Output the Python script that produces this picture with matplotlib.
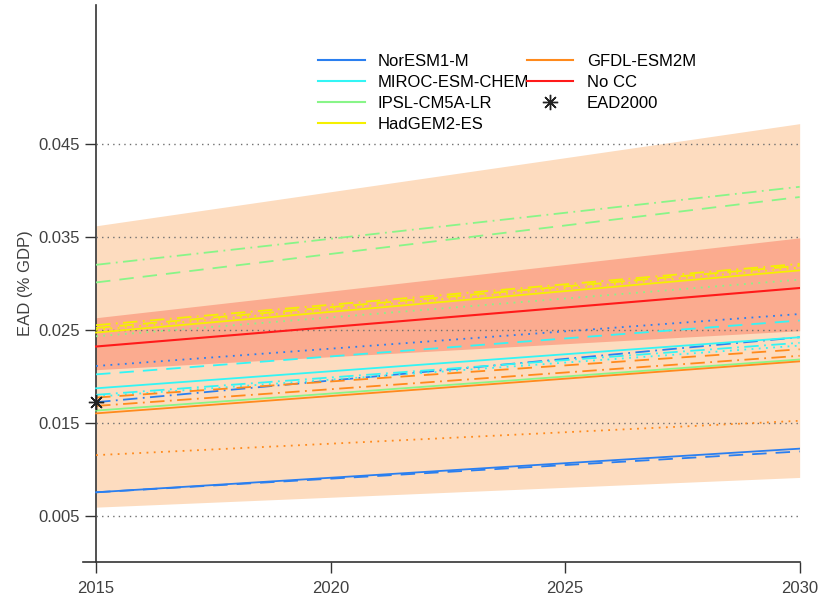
import numpy as np
import matplotlib.pyplot as plt
from matplotlib.lines import Line2D

plt.rcParams['font.family'] = ['Liberation Sans', 'DejaVu Sans']

years = [2015, 2030]

# uncertainty bands (start, end)
outer_lo = [0.0059, 0.0091]
outer_hi = [0.0362, 0.0472]
inner_lo = [0.0207, 0.0249]
inner_hi = [0.0263, 0.0349]
nocc = [0.0232, 0.0295]

# model runs: (solid, dashed, dotted, dash-dot) as (start, end)
noresm = [[0.0075, 0.0122], [0.0075, 0.0119], [0.0211, 0.0267], [0.0172, 0.0242]]
miroc = [[0.0187, 0.0242], [0.0202, 0.0260], [0.0178, 0.0233], [0.0180, 0.0236]]
ipsl = [[0.0163, 0.0218], [0.0301, 0.0393], [0.0243, 0.0304], [0.0320, 0.0404]]
hadgem = [[0.0247, 0.0314], [0.0252, 0.0319], [0.0250, 0.0317], [0.0255, 0.0321]]
gfdl = [[0.0160, 0.0216], [0.0177, 0.0229], [0.0115, 0.0152], [0.0168, 0.0222]]

ead2000 = 0.0172

models = ['NorESM1-M', 'MIROC-ESM-CHEM', 'IPSL-CM5A-LR', 'HadGEM2-ES', 'GFDL-ESM2M']
runs = [noresm, miroc, ipsl, hadgem, gfdl]
colors = ['#2a7ff0', '#33f5f5', '#88f588', '#f5f000', '#ff8a1c']
styles = ['-', (0, (8, 5)), (0, (1, 3)), (0, (8, 3, 1, 3))]

fig = plt.figure(figsize=(8.21, 6.01), dpi=100)
ax = fig.add_axes([0.101, 0.065, 0.873, 0.927])

ax.fill_between(years, outer_lo, outer_hi, color='#fddcbf', lw=0, zorder=1)
ax.fill_between(years, inner_lo, inner_hi, color='#fbab8f', lw=0, zorder=2)

for yv in [0.005, 0.015, 0.025, 0.035, 0.045]:
    ax.plot(years, [yv, yv], color='#707070', ls=(0, (1, 3)), lw=1.0, zorder=3)

for name, run, c in zip(models, runs, colors):
    for vals, ls in zip(run, styles):
        ax.plot(years, vals, color=c, ls=ls, lw=1.3, zorder=4)

ax.plot(years, nocc, color='#ff1a1a', lw=1.5, zorder=5)
ax.plot([2015], [ead2000], ls='none', marker=(8, 2, 0), ms=11, mew=1.0,
        color='#222222', zorder=6, clip_on=False)

ax.set_xlim(2014.72, 2030)
ax.set_ylim(0, 0.06)
ax.spines['left'].set_position(('data', 2015))
ax.spines['right'].set_visible(False)
ax.spines['top'].set_visible(False)
for s in ['left', 'bottom']:
    ax.spines[s].set_color('#333333')
    ax.spines[s].set_linewidth(1.2)

ax.set_xticks([2015, 2020, 2025, 2030])
ax.set_yticks([0.005, 0.015, 0.025, 0.035, 0.045])
ax.set_yticklabels(['0.005', '0.015', '0.025', '0.035', '0.045'])
ax.tick_params(axis='both', length=8, width=1.0, color='#333333',
               labelcolor='#404040', labelsize=12)
ax.tick_params(axis='x', pad=6)
ax.set_ylabel('EAD (% GDP)', color='#404040', fontsize=12, labelpad=4)

handles = [Line2D([], [], color=c, lw=1.5) for c in colors[:4]]
handles += [Line2D([], [], color=colors[4], lw=1.5),
            Line2D([], [], color='#ff1a1a', lw=1.5),
            Line2D([], [], ls='none', marker=(8, 2, 0), ms=11, mew=1.0, color='#222222')]
labels = models[:4] + ['GFDL-ESM2M', 'No CC', 'EAD2000']
ax.legend(handles, labels, ncol=2, frameon=False, fontsize=12,
          loc='upper left', bbox_to_anchor=(0.369, 0.935), bbox_transform=fig.transFigure,
          handlelength=2.8, columnspacing=-0.15, labelspacing=0.35, handletextpad=0.8)

fig.savefig('out.png', dpi=100)
